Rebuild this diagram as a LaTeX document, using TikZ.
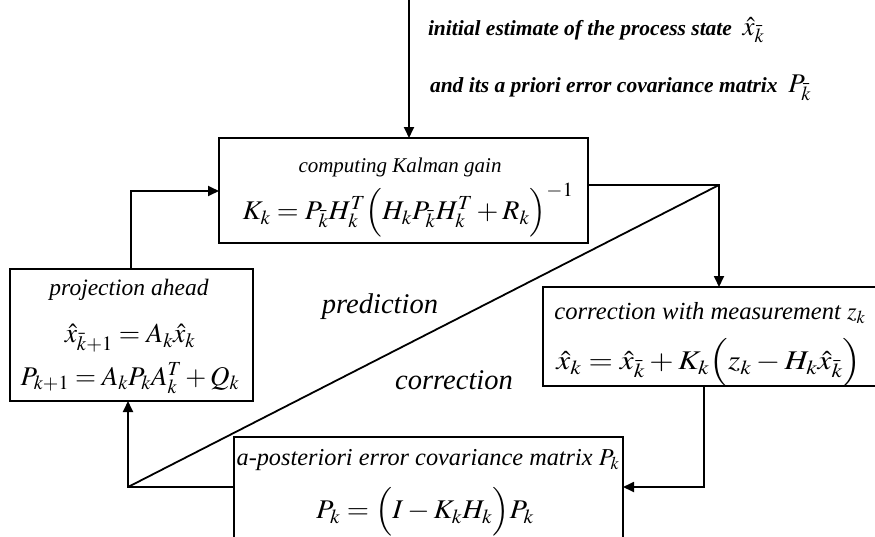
\documentclass[tikz,border=0pt]{standalone}
\usepackage{mathptmx}
\usepackage[no-math]{fontspec}
\setmainfont{Liberation Serif}
\usetikzlibrary{arrows.meta}
\begin{document}
\begin{tikzpicture}[x=1pt,y=-1pt,
  boxnode/.style={draw,line width=2pt,inner sep=0pt,outer sep=0pt,rectangle},
  conn/.style={line width=1.8pt},
  arr/.style={conn,-{Triangle[length=11pt,width=10pt]}},
  lbl/.style={inner sep=0pt,outer sep=0pt},
  ttl/.style={lbl,font=\fontsize{#1}{#1}\selectfont\itshape},
  eqn/.style={lbl,font=\fontsize{#1}{#1}\selectfont},
  topt/.style={lbl,anchor=west,font=\fontsize{21.5}{22}\selectfont\bfseries\itshape}]
\useasboundingbox (0,0) rectangle (875,536);
\clip (0,0) rectangle (875,536);
% boxes
\node[boxnode,minimum width=369pt,minimum height=105pt] (kal) at (403.5,190.5) {};
\node[boxnode,minimum width=243pt,minimum height=132pt] (proj) at (131.5,335) {};
\node[boxnode,minimum width=360pt,minimum height=99pt,anchor=north west] (corr) at (543,287) {};
\node[boxnode,minimum width=389pt,minimum height=140pt,anchor=north west] (post) at (234,437) {};
% texts
\node[topt] (t1) at (428,30) {initial estimate of the process state\enspace{\fontsize{27}{27}\selectfont$\hat{x}_{\bar k}$}};
\node[topt] (t2) at (430,88) {and its a priori error covariance matrix\enspace{\fontsize{27}{27}\selectfont$P_{\bar k}$}};
\node[ttl=21] (kt) at (400,167) {computing Kalman gain};
\node[eqn=27,xscale=1.04] (kf) at (408,210) {$K_k = P_{\bar k}H_k^T\Bigl(H_kP_{\bar k}H_k^T+R_k\Bigr)^{-1}$};
\node[ttl=23.5] (pt) at (129,290) {projection ahead};
\node[eqn=27.5] (pf1) at (130,338) {$\hat{x}_{\bar k+1} = A_k\hat{x}_k$};
\node[eqn=27] (pf2) at (130,378) {$P_{k+1} = A_kP_kA_k^T+Q_k$};
\node[ttl=24.6] (ct) at (710,313) {correction with measurement $z_k$};
\node[eqn=27,xscale=1.16] (cf) at (709,363) {$\hat{x}_k = \hat{x}_{\bar k}+K_k\Bigl(z_k-H_k\hat{x}_{\bar k}\Bigr)$};
\node[ttl=24.3] (at) at (428,460) {a-posteriori error covariance matrix $P_k$};
\node[eqn=27,xscale=1.06] (af) at (425,512) {$P_k = \Bigl(I-K_kH_k\Bigr)P_k$};
\node[ttl=28.5] (lp) at (380,307) {prediction};
\node[ttl=28.5] (lc) at (454,380) {correction};
% connector points
\coordinate (c0) at (409,-5);
\coordinate (c1) at (719,185);
\coordinate (c2) at (704,487);
\coordinate (c3) at (128,487);
\coordinate (c4) at (131,191);
% connectors
\draw[arr] (c0) -- (c0 |- kal.north);
\draw[arr] (kal.east |- c1) -- (c1) -- (c1 |- corr.north);
\draw[arr] (c2 |- corr.south) -- (c2) -- (c2 -| post.east);
\draw[arr] (c3 -| post.west) -- (c3) -- (c3 |- proj.south);
\draw[arr] (c4 |- proj.north) -- (c4) -- (c4 -| kal.west);
\draw[conn] (c1) -- (c3);
\end{tikzpicture}
\end{document}
